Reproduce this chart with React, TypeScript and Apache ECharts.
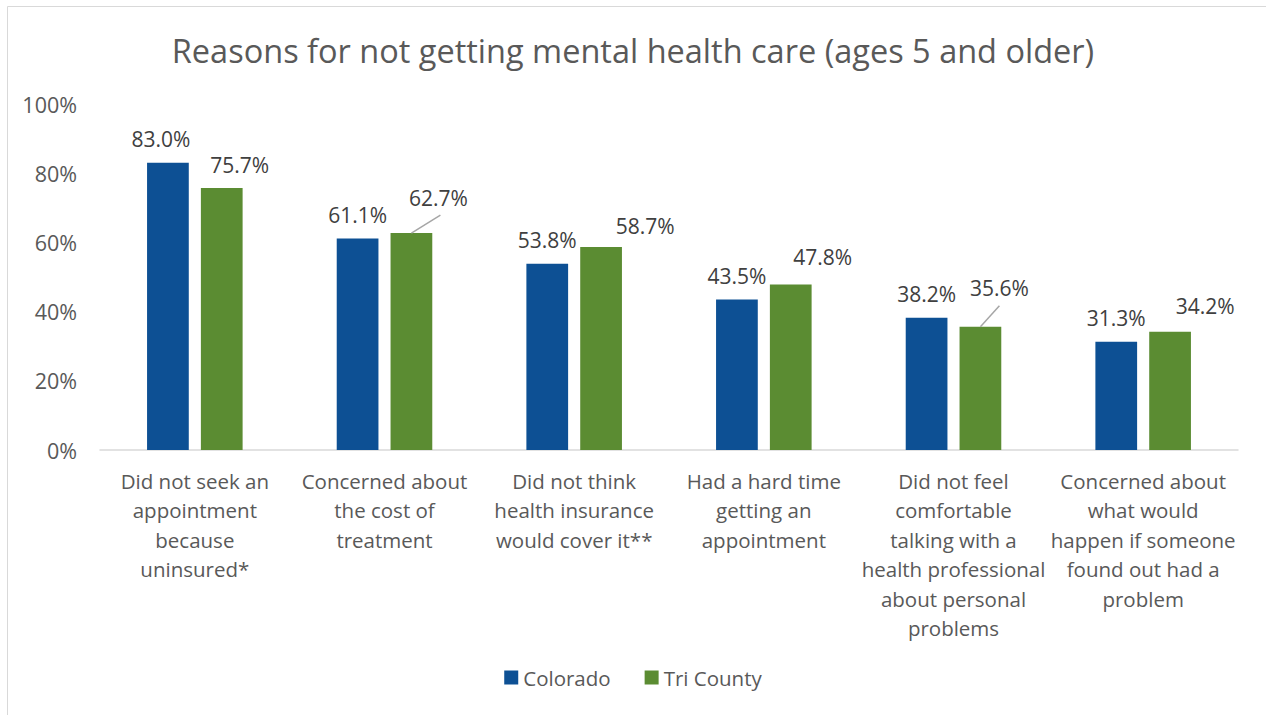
import React, { useEffect, useRef } from "react";
import * as echarts from "echarts";

const categories = [
  "Did not seek an\nappointment\nbecause\nuninsured*",
  "Concerned about\nthe cost of\ntreatment",
  "Did not think\nhealth insurance\nwould cover it**",
  "Had a hard time\ngetting an\nappointment",
  "Did not feel\ncomfortable\ntalking with a\nhealth professional\nabout personal\nproblems",
  "Concerned about\nwhat would\nhappen if someone\nfound out had a\nproblem",
];
const colorado = [83.0, 61.1, 53.8, 43.5, 38.2, 31.3];
const triCounty = [75.7, 62.7, 58.7, 47.8, 35.6, 34.2];
const seriesNames = ["Colorado", "Tri County"];
const yTicks = [0, 20, 40, 60, 80, 100];

// manual label displacements (as in the original chart)
const coloradoLabelShift: [number, number][] = [[-7, 0], [0, 0], [0, 0], [0, 0], [0, 0], [0, 0]];
const triLabelShift: [number, number][] = [[18, 0], [27, -12], [44, 3], [32, -4], [19, -15], [35, -2]];
// leader lines for moved labels: [category index, dx, dy]
const leaderLines: [number, number, number][] = [[1, 29, -18], [4, 19, -21]];

const FONT = "'Open Sans', 'Noto Sans', sans-serif";
const BAR_W = 0.22;
const BAR_GAP = 0.29;

export default function App() {
  const ref = useRef<HTMLDivElement>(null);
  useEffect(() => {
    document.body.style.margin = "0";
    const chart = echarts.init(ref.current!, null, { renderer: "svg" });
    const triOffsetFrac = -(2 * BAR_W + BAR_W * BAR_GAP) / 2 + BAR_W + BAR_W * BAR_GAP + BAR_W / 2;
    const labelCfg = {
      show: true,
      position: "top",
      distance: 13,
      formatter: (p: any) => p.value.toFixed(1) + "%",
      fontSize: 21,
      color: "#404040",
      fontFamily: FONT,
    };
    chart.setOption({
      animation: false,
      textStyle: { fontFamily: FONT },
      title: {
        text: "Reasons for not getting mental health care (ages 5 and older)",
        left: "center",
        top: 26,
        textStyle: { fontSize: 32.5, fontWeight: "normal", color: "#595959", fontFamily: FONT, lineHeight: 38 },
      },
      graphic: [
        {
          type: "rect",
          shape: { x: 7.5, y: 6.5, width: 1300, height: 800 },
          style: { fill: "none", stroke: "#d9d9d9", lineWidth: 1 },
          silent: true,
        },
      ],
      legend: {
        data: seriesNames,
        bottom: 22,
        left: "center",
        icon: "rect",
        itemWidth: 14,
        itemHeight: 14,
        itemGap: 34,
        textStyle: { fontSize: 20.5, color: "#595959", fontFamily: FONT },
      },
      grid: { left: 100, right: 28, top: 104, bottom: 265, containLabel: false },
      xAxis: {
        type: "category",
        data: categories,
        axisLine: { lineStyle: { color: "#d9d9d9", width: 1.5 } },
        axisTick: { show: false },
        axisLabel: {
          interval: 0,
          margin: 16,
          fontSize: 20.5,
          lineHeight: 29.5,
          color: "#595959",
          fontFamily: FONT,
          verticalAlign: "top",
        },
      },
      yAxis: {
        type: "value",
        min: yTicks[0],
        max: yTicks[yTicks.length - 1],
        interval: 20,
        axisLine: { show: false },
        axisTick: { show: false },
        splitLine: { show: false },
        axisLabel: {
          formatter: "{value}%",
          fontSize: 21.5,
          color: "#595959",
          margin: 23,
          fontFamily: FONT,
        },
      },
      series: [
        {
          name: seriesNames[0],
          type: "bar",
          data: colorado,
          barWidth: BAR_W * 100 + "%",
          barGap: BAR_GAP * 100 + "%",
          itemStyle: { color: "#0D5094" },
          label: labelCfg,
          labelLayout: (p: any) => ({ dx: coloradoLabelShift[p.dataIndex][0], dy: coloradoLabelShift[p.dataIndex][1] }),
        },
        {
          name: seriesNames[1],
          type: "bar",
          data: triCounty,
          barWidth: BAR_W * 100 + "%",
          itemStyle: { color: "#5B8C32" },
          label: labelCfg,
          labelLayout: (p: any) => ({ dx: triLabelShift[p.dataIndex][0], dy: triLabelShift[p.dataIndex][1] }),
        },
        {
          type: "custom",
          silent: true,
          data: leaderLines.map((l) => [l[0], triCounty[l[0]], l[1], l[2]]),
          renderItem: (params: any, api: any) => {
            const c = api.coord([api.value(0), api.value(1)]);
            const bw = api.size([1, 0])[0];
            const x0 = c[0] + bw * triOffsetFrac;
            const y0 = c[1];
            return {
              type: "line",
              shape: { x1: x0, y1: y0, x2: x0 + api.value(2), y2: y0 + api.value(3) },
              style: { stroke: "#a6a6a6", lineWidth: 1.5 },
            };
          },
          z: 5,
        },
      ],
    });
    return () => chart.dispose();
  }, []);
  return <div ref={ref} style={{ width: 1266, height: 715 }} />;
}
